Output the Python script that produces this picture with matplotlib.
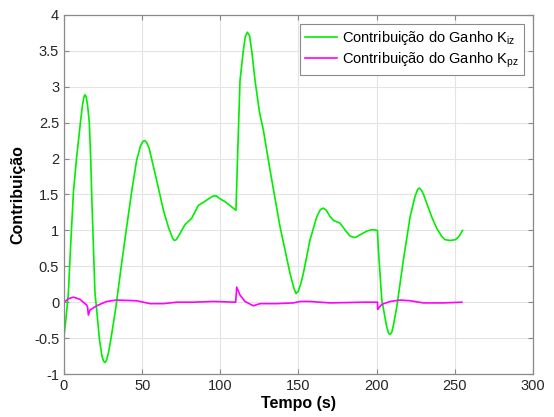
import numpy as np
import matplotlib
matplotlib.use("Agg")
import matplotlib.pyplot as plt

# Time samples (s) and gain contributions
t_kiz = [0, 1.4, 2.8, 4.4, 6, 8.0, 10.5, 11.8, 12.7, 13.4, 14.2, 15.1, 16.2,
         17.1, 17.7, 19.8, 20.9, 22.6, 24.2, 25.3, 26.2, 27.2, 28.5, 30.1, 33,
         36.5, 40.1, 43.5, 46.5, 49, 50.5, 51.8, 53, 54.5, 57.2, 60.5, 63.6,
         67, 69.5, 70.6, 71.8, 73.5, 77.4, 81.7, 86, 89.1, 92.5, 95.5, 97.5,
         99.8, 103, 106.5, 110, 111.1, 112.6, 114.7, 116, 117.3, 118.7, 120.1,
         122.2, 125, 127.5, 131.8, 138.2, 144.6, 147, 148.4, 149.8, 151.5,
         153.1, 157.4, 161.7, 164, 165.9, 167.8, 170, 172.3, 176.6, 180, 183,
         186.2, 189.5, 193.7, 197, 200.5, 201.1, 203.3, 206.4, 207.6, 208.6,
         209.8, 210.9, 212.9, 217.1, 221.4, 224.5, 226.2, 227.3, 228.6, 230,
         232, 235, 238.4, 241.5, 243.8, 247, 250.2, 252, 253.4, 254.9]
kiz = [-0.48, -0.2, 0.13, 0.85, 1.52, 2.0, 2.5, 2.74, 2.85, 2.89, 2.86, 2.74,
       2.5, 2.0, 1.52, 0.13, -0.1, -0.5, -0.74, -0.82, -0.84, -0.81, -0.7,
       -0.5, -0.1, 0.48, 1.05, 1.57, 1.98, 2.18, 2.24, 2.25, 2.22, 2.14, 1.89,
       1.58, 1.28, 1.03, 0.89, 0.86, 0.87, 0.93, 1.08, 1.17, 1.35, 1.39, 1.44,
       1.48, 1.48, 1.44, 1.40, 1.34, 1.28, 2.07, 3.09, 3.5, 3.7, 3.76, 3.71,
       3.5, 3.09, 2.65, 2.40, 1.84, 1.05, 0.40, 0.2, 0.12, 0.15, 0.26, 0.40,
       0.87, 1.19, 1.29, 1.31, 1.28, 1.2, 1.14, 1.10, 1.0, 0.92, 0.90, 0.94,
       0.99, 1.01, 1.0, 0.73, 0.03, -0.34, -0.43, -0.45, -0.41, -0.3, -0.06,
       0.59, 1.19, 1.47, 1.57, 1.59, 1.56, 1.5, 1.38, 1.2, 1.03, 0.92, 0.87,
       0.86, 0.87, 0.9, 0.94, 1.0]

t_kpz = [0, 3, 6, 10.2, 14.5, 15.1, 15.6, 16.6, 20.9, 27.3, 33.7, 46.5, 55,
         63.6, 72.1, 82.7, 95.5, 109.8, 110.5, 112.6, 115.8, 121.1, 125.4,
         136, 146.7, 151, 157.4, 170.2, 191.5, 200.5, 200.7, 203.3, 208.6,
         215, 221.4, 229.9, 242.7, 254.5]
kpz = [0.0, 0.05, 0.07, 0.04, -0.04, -0.07, -0.18, -0.11, -0.05, 0.01, 0.03,
       0.02, -0.02, -0.02, 0.0, 0.0, 0.01, 0.0, 0.21, 0.10, 0.01, -0.05, -0.02,
       -0.02, -0.01, 0.01, 0.01, -0.01, 0.0, 0.0, -0.1, -0.03, 0.01, 0.03,
       0.02, -0.01, -0.01, 0.0]

x_ticks = [0, 50, 100, 150, 200, 250, 300]
y_ticks = [-1, -0.5, 0, 0.5, 1, 1.5, 2, 2.5, 3, 3.5, 4]

plt.rcParams["font.family"] = ["Liberation Sans", "DejaVu Sans"]
plt.rcParams["mathtext.fontset"] = "custom"
plt.rcParams["mathtext.rm"] = "Liberation Sans"

fig = plt.figure(figsize=(5.54, 4.17), dpi=100)
ax = fig.add_axes([0.1155, 0.1031, 0.8466, 0.861])

ax.plot(t_kiz, kiz, color="#00ee00", linewidth=1.2,
        label=r"Contribuição do Ganho K$\mathregular{_{iz}}$")
ax.plot(t_kpz, kpz, color="#ff00ff", linewidth=1.2,
        label=r"Contribuição do Ganho K$\mathregular{_{pz}}$")

ax.set_xlim(0, 300)
ax.set_ylim(-1, 4)
ax.set_xticks(x_ticks)
ax.set_yticks(y_ticks)
ax.set_yticklabels([f"{v:g}" for v in y_ticks])
ax.grid(True, color="#e4e4e4", linewidth=0.8)
ax.set_axisbelow(True)
ax.tick_params(direction="in", top=True, right=True, length=3.5,
               labelsize=10.5, colors="#888888", labelcolor="#262626")
for s in ax.spines.values():
    s.set_color("#8a8a8a")
    s.set_linewidth(0.9)

ax.set_xlabel("Tempo (s)", fontsize=11.5, fontweight="bold", labelpad=2)
ax.set_ylabel("Contribuição", fontsize=11.5, fontweight="bold", labelpad=6)

leg = ax.legend(loc="upper right", fontsize=10.5, fancybox=False,
                framealpha=1, edgecolor="#8a8a8a", borderaxespad=0.6,
                handlelength=2.2, handletextpad=0.35, borderpad=0.35,
                labelspacing=0.25)
leg.get_frame().set_linewidth(0.8)

fig.savefig("out.png", dpi=100)
